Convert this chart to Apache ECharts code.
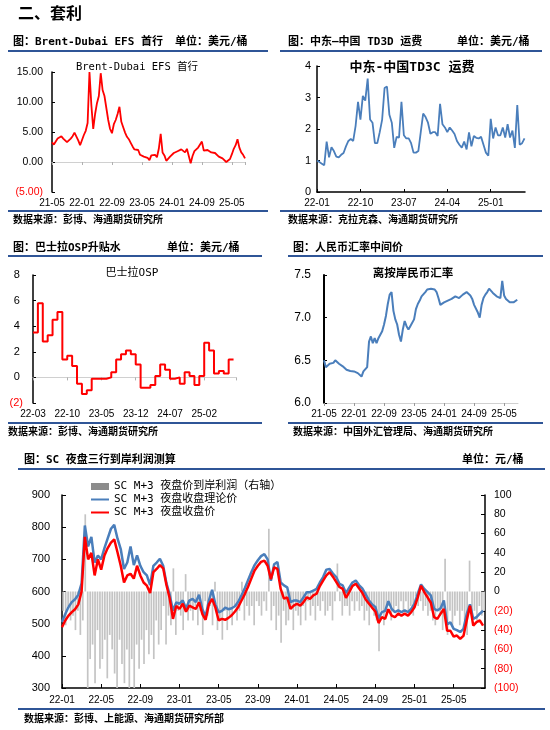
<!DOCTYPE html>
<html><head><meta charset="utf-8">
<script src="https://cdn.jsdelivr.net/npm/echarts@6/dist/echarts.min.js"></script>
<style>html,body{margin:0;padding:0;background:#fff}#c{width:550px;height:730px}</style>
</head><body><div id="c"></div>
<script>
// ---------------- DATA ----------------
// Brent-Dubai EFS, half-month points from 2021-05
const efsXLabels = ['21-05','22-01','22-09','23-05','24-01','24-09','25-05'];
const efsValues = [3.3,2.9,3.4,3.9,4.1,4.3,3.9,3.6,3.3,3.4,
 3.9,4.3,4.9,5.2,3.6,2.8,3.0,4.5,5.2,6.5,
 15.0,9.5,5.5,8.0,9.8,11.0,14.8,12.0,11.0,9.0,
 7.0,5.5,4.8,6.3,7.0,8.0,9.2,6.7,5.8,4.9,
 4.2,3.8,3.2,2.6,2.1,2.1,2.0,1.2,0.9,0.9,
 1.2,0.7,0.3,1.1,1.3,1.2,0.8,2.2,4.7,1.6,
 1.1,0.2,0.1,0.9,1.2,1.5,1.6,1.8,1.8,2.1,
 2.0,1.6,2.2,1.0,-0.2,1.0,1.8,1.9,2.4,2.4,
 3.4,1.9,2.1,2.0,1.8,1.6,1.4,1.5,1.4,0.9,
 0.8,0.6,0.3,0.0,0.2,0.5,1.3,2.2,2.8,3.8,
 2.4,1.6,1.2,0.6];

// TD3C freight, half-month points from 2022-01
const td3cXLabels = ['22-01','22-10','23-07','24-04','25-01'];
const td3cValues = [1.0,0.95,0.9,0.85,1.6,1.1,1.42,1.3,1.12,1.1,
 1.18,1.24,1.45,1.62,1.68,1.62,2.1,2.86,2.3,3.05,
 2.9,3.6,2.3,2.2,1.55,1.55,1.9,2.3,3.3,3.35,
 2.45,2.2,1.4,1.75,1.73,2.86,1.8,1.7,1.7,1.55,
 1.25,1.25,1.3,1.9,2.49,2.38,2.2,1.85,1.9,1.9,
 1.78,2.8,2.15,2.05,1.9,2.05,1.95,1.84,1.62,1.5,
 1.41,1.6,1.35,1.89,1.45,1.78,1.72,1.7,1.75,1.5,
 1.25,1.15,2.32,1.7,2.05,1.8,1.8,2.05,1.73,2.15,
 1.73,1.95,1.4,2.76,1.5,1.55,1.7];

// Basrah OSP, monthly from 2022-03
const ospXLabels = ['22-03','22-10','23-05','23-12','24-07','25-02'];
const ospValues = [3.5,5.8,2.8,3.3,4.5,5.1,1.4,1.7,0.9,-0.5,
 -1.3,-1.0,-0.1,-0.1,-0.1,0.0,0.4,1.4,1.8,2.1,
 1.8,1.0,-0.8,-0.8,-0.6,0.1,1.0,0.6,-0.1,0.0,
 -0.5,0.4,0.1,-0.6,0.1,2.7,2.1,0.3,0.5,0.3,1.4];

// CNH rate, half-month points from 2021-05
const cnyXLabels = ['21-05','22-01','22-09','23-05','24-01','24-09','25-05'];
const cnyValues = [6.50,6.42,6.40,6.46,6.48,6.47,6.50,6.48,6.46,6.45,
 6.43,6.41,6.39,6.38,6.375,6.37,6.37,6.36,6.35,6.33,
 6.31,6.37,6.37,6.42,6.72,6.78,6.70,6.76,6.70,6.76,
 6.80,6.84,6.92,7.02,7.16,7.27,7.30,7.08,6.98,6.92,
 6.80,6.72,6.86,6.96,6.90,6.86,6.90,6.88,6.98,7.10,
 7.16,7.20,7.25,7.27,7.30,7.33,7.32,7.34,7.35,7.33,
 7.30,7.23,7.15,7.16,7.18,7.19,7.20,7.21,7.22,7.24,
 7.25,7.24,7.23,7.25,7.27,7.29,7.30,7.28,7.26,7.22,
 7.15,7.13,7.06,7.00,7.15,7.23,7.27,7.30,7.34,7.33,
 7.29,7.27,7.25,7.24,7.23,7.43,7.26,7.22,7.20,7.18,
 7.17,7.18,7.19,7.21];

// SC night session, lines: 3 points per month from 2022-01; profit: 4 points per month
const scXLabels = ['22-01','22-05','22-09','23-01','23-05','23-09','24-01','24-05','24-09','25-01','25-05'];
const scClose = [489,510,525,536,545,560,600,770,700,720,
 650,700,668,712,735,752,762,722,680,628,
 650,655,640,680,650,628,618,595,660,670,
 682,672,620,578,515,555,546,562,537,556,
 551,546,566,530,512,560,577,550,510,515,
 512,518,526,538,552,572,592,615,640,665,
 680,692,696,680,638,675,670,608,578,582,
 546,556,562,556,567,582,577,588,593,617,
 634,650,660,646,630,614,608,580,598,617,
 624,610,596,576,563,550,538,502,520,515,
 545,525,520,531,525,531,525,536,551,582,
 618,598,582,565,520,515,531,546,478,478,
 460,463,453,462,510,556,494,505,510,494];
const scTheory = [505,530,552,567,576,590,625,805,740,770,
 690,712,700,735,765,795,807,765,732,670,
 690,740,682,712,680,660,650,620,680,690,
 702,680,626,590,540,566,562,572,547,572,
 577,567,590,545,522,572,605,560,535,540,
 550,545,548,554,568,588,610,635,660,682,
 697,710,716,700,633,685,692,628,619,613,
 567,572,572,567,582,598,598,603,608,628,
 645,668,670,656,645,624,619,595,612,628,
 634,620,610,592,573,560,552,516,536,540,
 570,546,536,541,536,541,536,546,562,593,
 622,608,598,588,546,541,548,572,498,504,
 484,480,474,484,530,560,515,520,531,540];
const scProfit = [
 -20,-35,-15,-30, -25,-40,-20,-45, -30,80,-100,-70, -55,-95,-40,-80,
 -70,-50,-90,-45, -60,-85,-100,-50, -75,-95,-60,-100, -70,-100,-55,-80,
 -50,-75,-40,-65, -45,-70,-30,-55, -40,-15,-55,-25, -35,24,-45,-20,
 -25,-40,18,-30, -20,-30,-15,-35, -20,-45,-10,-25, -15,-35,10,-40,
 -30,-50,-20,-40, -25,-35,-15,-30, -20,10,-30,-15, -25,-15,-35,-10,
 -15,-25,-10,-20, 65,-30,-15,-40, -25,-53,-20,-35, -30,-15,-40,-20,
 -25,-35,-15,-30, -10,-25,-15,-30, -15,-20,-10,-25, -20,-15,-30,-10,
 29,-10,-25,-15, -15,-25,-10,-20, -10,-20,-15,-30, -20,-35,-15,-25,
 -30,-62,-20,-35, -25,-15,-30,-20, -15,-25,-10,-20, -10,-20,-15,-25,
 -5,-15,-10,-20, -15,-25,-20,-30, -35,-20,-25,-40, 34,-45,-20,-35,
 -25,-20,-35,-20, -30,-45,32,-25, -20,-30,-15,-25, -20];

// ---------------- CHART ----------------
const MONO = "'DejaVu Sans Mono','Noto Sans CJK SC',sans-serif";
const CJK = "'Noto Sans CJK SC',sans-serif";
const NUM = "'Liberation Sans',Arial,sans-serif";
const RED = '#ff0000', BLUE = '#4a7ebb', HDR = '#2f5597';

function lbl(arr, step) {
  return v => { const i = v / step; const r = Math.round(i);
    return (Math.abs(i - r) < 1e-6 && arr[r] !== undefined) ? arr[r] : ''; };
}
const half = arr => arr.map((v, i) => [i / 2, v]);

function T(x, y, text, size, weight, family, align, color) {
  return { type: 'text', x: x, y: y, silent: true, z: 100,
    style: { text: text, font: (weight || 'normal') + ' ' + size + 'px ' + (family || MONO),
      fill: color || '#000', align: align || 'left', verticalAlign: 'middle' } };
}
function L(x1, y1, x2, y2, c, w) {
  return { type: 'line', silent: true, shape: { x1, y1, x2, y2 }, style: { stroke: c || HDR, lineWidth: w || 2 } };
}

const axisBlack = { show: true, onZero: false, lineStyle: { color: '#000', width: 1.5 } };
const tickIn = { show: true, inside: true, length: 3, lineStyle: { color: '#000' } };
const noSplit = { show: false };

const ospData = ospValues.map((v, i) => [i, v]);
ospData.push([ospValues.length, ospValues[ospValues.length - 1]]);

const option = {
  backgroundColor: '#fff',
  animation: false,
  graphic: { elements: [
    T(18, 13, '二、套利', 16, 'bold', CJK),
    // panel 1
    T(13, 42, '图：Brent-Dubai EFS 首行', 11, 'bold'),
    T(175, 42, '单位：美元/桶', 11, 'bold'),
    L(8, 51, 268, 51), L(8, 211, 268, 211),
    T(13, 220, '数据来源：彭博、海通期货研究所', 10, 'bold'),
    T(137, 67, 'Brent-Dubai EFS 首行', 10.5, 'normal', MONO, 'center'),
    // panel 2
    T(288, 42, '图：中东—中国 TD3D 运费', 11, 'bold'),
    T(457, 42, '单位：美元/桶', 11, 'bold'),
    L(280, 51, 542, 51), L(280, 211, 542, 211),
    T(288, 220, '数据来源：克拉克森、海通期货研究所', 10, 'bold'),
    T(412, 68, '中东-中国TD3C 运费', 13, 'bold', MONO, 'center'),
    // panel 3
    T(13, 248, '图：巴士拉OSP升贴水', 11, 'bold'),
    T(167, 248, '单位：美元/桶', 11, 'bold'),
    L(8, 256, 262, 256), L(8, 423, 262, 423),
    T(8, 432, '数据来源：彭博、海通期货研究所', 10, 'bold'),
    T(132, 273, '巴士拉OSP', 11, 'normal', MONO, 'center'),
    // panel 4
    T(293, 248, '图：人民币汇率中间价', 11, 'bold'),
    L(288, 256, 543, 256), L(288, 423, 543, 423),
    T(293, 432, '数据来源：中国外汇管理局、海通期货研究所', 10, 'bold'),
    T(413, 273, '离按岸民币汇率', 11.5, 'bold', CJK, 'center'),
    // panel 5
    T(24, 460, '图：SC 夜盘三行到岸利润测算', 11, 'bold'),
    T(462, 460, '单位：元/桶', 11, 'bold'),
    L(18, 469, 545, 469), L(18, 709, 545, 709),
    T(24, 719, '数据来源：彭博、上能源、海通期货研究所部', 10, 'bold')
  ]},
  grid: [
    { left: 52, top: 72, width: 193, height: 120 },
    { left: 317, top: 66, width: 208, height: 126 },
    { left: 33, top: 275, width: 203, height: 128 },
    { left: 324, top: 275, width: 194, height: 128 },
    { left: 62, top: 495, width: 423, height: 193 }
  ],
  xAxis: [
    { gridIndex: 0, type: 'value', min: 0, max: 51.5, interval: 8, axisLine: { show: false, onZero: false },
      axisTick: { show: false }, splitLine: noSplit,
      axisLabel: { formatter: lbl(efsXLabels, 8), fontSize: 10, margin: 6, color: '#000', fontFamily: NUM, showMaxLabel: false } },
    { gridIndex: 0, type: 'value', min: 0, max: 51.5, interval: 8, position: 'bottom',
      axisLine: { show: true, onZero: true, lineStyle: { color: '#d0d0d0', width: 1 } },
      axisTick: { show: true, length: 3, lineStyle: { color: '#b0b0b0' } }, axisLabel: { show: false }, splitLine: noSplit },
    { gridIndex: 1, type: 'value', min: 0, max: 43.1, interval: 9, axisLine: axisBlack, axisTick: tickIn, splitLine: noSplit,
      axisLabel: { formatter: lbl(td3cXLabels, 9), fontSize: 10, margin: 6, color: '#000', fontFamily: NUM, showMaxLabel: false } },
    { gridIndex: 2, type: 'value', min: 0, max: 41.5, interval: 7, axisLine: { show: false, onZero: false },
      axisTick: { show: false }, splitLine: noSplit,
      axisLabel: { formatter: lbl(ospXLabels, 7), fontSize: 10, margin: 6, color: '#000', fontFamily: NUM, showMaxLabel: false } },
    { gridIndex: 2, type: 'value', min: 0, max: 41.5, interval: 7, position: 'bottom',
      axisLine: { show: true, onZero: true, lineStyle: { color: '#d0d0d0', width: 1 } },
      axisTick: { show: true, length: 3, lineStyle: { color: '#b0b0b0' } }, axisLabel: { show: false }, splitLine: noSplit },
    { gridIndex: 3, type: 'value', min: 0, max: 51.7, interval: 8,
      axisLine: { show: true, onZero: false, lineStyle: { color: '#d0d0d0', width: 1 } },
      axisTick: { show: true, length: 3, lineStyle: { color: '#999' } }, splitLine: noSplit,
      axisLabel: { formatter: lbl(cnyXLabels, 8), fontSize: 10, margin: 6, color: '#000', fontFamily: NUM, showMaxLabel: false } },
    { gridIndex: 4, type: 'value', min: 0, max: 43.2, interval: 4, axisLine: axisBlack,
      axisTick: { show: true, inside: true, length: 4, lineStyle: { color: '#000' } }, splitLine: noSplit,
      axisLabel: { formatter: lbl(scXLabels, 4), fontSize: 10, margin: 7, color: '#000', fontFamily: NUM, showMaxLabel: false } }
  ],
  yAxis: [
    { gridIndex: 0, type: 'value', min: -5, max: 15, interval: 5, axisLine: axisBlack, axisTick: tickIn, splitLine: noSplit,
      axisLabel: { fontSize: 10.5, margin: 9, fontFamily: NUM,
        formatter: v => v < 0 ? '(' + Math.abs(v).toFixed(2) + ')' : v.toFixed(2),
        color: v => (v < 0 ? RED : '#000') } },
    { gridIndex: 1, type: 'value', min: 0, max: 4, interval: 1, axisLine: axisBlack, axisTick: tickIn, splitLine: noSplit,
      axisLabel: { fontSize: 11, margin: 6, fontFamily: NUM, color: '#000' } },
    { gridIndex: 2, type: 'value', min: -2, max: 8, interval: 2, axisLine: axisBlack, axisTick: tickIn, splitLine: noSplit,
      axisLabel: { fontSize: 11, margin: 10, fontFamily: NUM,
        formatter: v => v < 0 ? '(' + Math.abs(v) + ')' : v + ' ',
        color: v => (v < 0 ? RED : '#000') } },
    { gridIndex: 3, type: 'value', min: 6, max: 7.5, interval: 0.5, axisLine: { show: true, onZero: false, lineStyle: { color: '#000', width: 2 } },
      axisTick: tickIn, splitLine: noSplit,
      axisLabel: { fontSize: 12, margin: 13, fontFamily: NUM, color: '#000', formatter: v => v.toFixed(1) } },
    { gridIndex: 4, type: 'value', min: 300, max: 900, interval: 100, axisLine: axisBlack,
      axisTick: { show: true, inside: true, length: 4, lineStyle: { color: '#000' } }, splitLine: noSplit,
      axisLabel: { fontSize: 11, margin: 12, fontFamily: NUM, color: '#000' } },
    { gridIndex: 4, type: 'value', position: 'right', min: -100, max: 100, interval: 20, axisLine: axisBlack,
      axisTick: { show: true, inside: true, length: 4, lineStyle: { color: '#000' } }, splitLine: noSplit,
      axisLabel: { fontSize: 10.5, margin: 9, fontFamily: NUM,
        formatter: v => v < 0 ? '(' + Math.abs(v) + ')' : String(v),
        color: v => (v < 0 ? RED : '#000') } }
  ],
  legend: {
    left: 90, top: 480, orient: 'vertical', itemWidth: 18, itemHeight: 7, itemGap: 0, padding: 0,
    selectedMode: false,
    textStyle: { fontSize: 11, fontFamily: MONO, color: '#000', lineHeight: 13 },
    data: [
      { name: 'SC M+3 夜盘价到岸利润（右轴）', icon: 'rect', itemStyle: { color: '#8c8c8c' } },
      { name: 'SC M+3 夜盘收盘理论价', itemStyle: { opacity: 0 } },
      { name: 'SC M+3 夜盘收盘价', itemStyle: { opacity: 0 } }
    ]
  },
  series: [
    { type: 'line', xAxisIndex: 0, yAxisIndex: 0, data: half(efsValues), symbol: 'none',
      lineStyle: { color: RED, width: 1.8 }, itemStyle: { color: RED } },
    { type: 'line', xAxisIndex: 2, yAxisIndex: 1, data: half(td3cValues), symbol: 'none',
      lineStyle: { color: BLUE, width: 1.8 }, itemStyle: { color: BLUE } },
    { type: 'line', xAxisIndex: 3, yAxisIndex: 2, data: ospData, symbol: 'none', step: 'end',
      lineStyle: { color: RED, width: 2 }, itemStyle: { color: RED } },
    { type: 'line', xAxisIndex: 5, yAxisIndex: 3, data: half(cnyValues), symbol: 'none',
      lineStyle: { color: BLUE, width: 2 }, itemStyle: { color: BLUE } },
    { name: 'SC M+3 夜盘价到岸利润（右轴）', type: 'bar', xAxisIndex: 6, yAxisIndex: 5,
      data: scProfit.map((v, i) => [i / 4 + 0.125, v]), barWidth: 1.7, itemStyle: { color: '#c4c4c4' } },
    { name: 'SC M+3 夜盘收盘理论价', type: 'line', xAxisIndex: 6, yAxisIndex: 4,
      data: scTheory.map((v, k) => [k / 3, v]), symbol: 'none',
      lineStyle: { color: BLUE, width: 2.5 }, itemStyle: { color: BLUE } },
    { name: 'SC M+3 夜盘收盘价', type: 'line', xAxisIndex: 6, yAxisIndex: 4,
      data: scClose.map((v, k) => [k / 3, v]), symbol: 'none',
      lineStyle: { color: RED, width: 2.5 }, itemStyle: { color: RED } }
  ]
};
const chart = echarts.init(document.getElementById('c'), null, { renderer: 'canvas' });
chart.setOption(option);
</script></body></html>
